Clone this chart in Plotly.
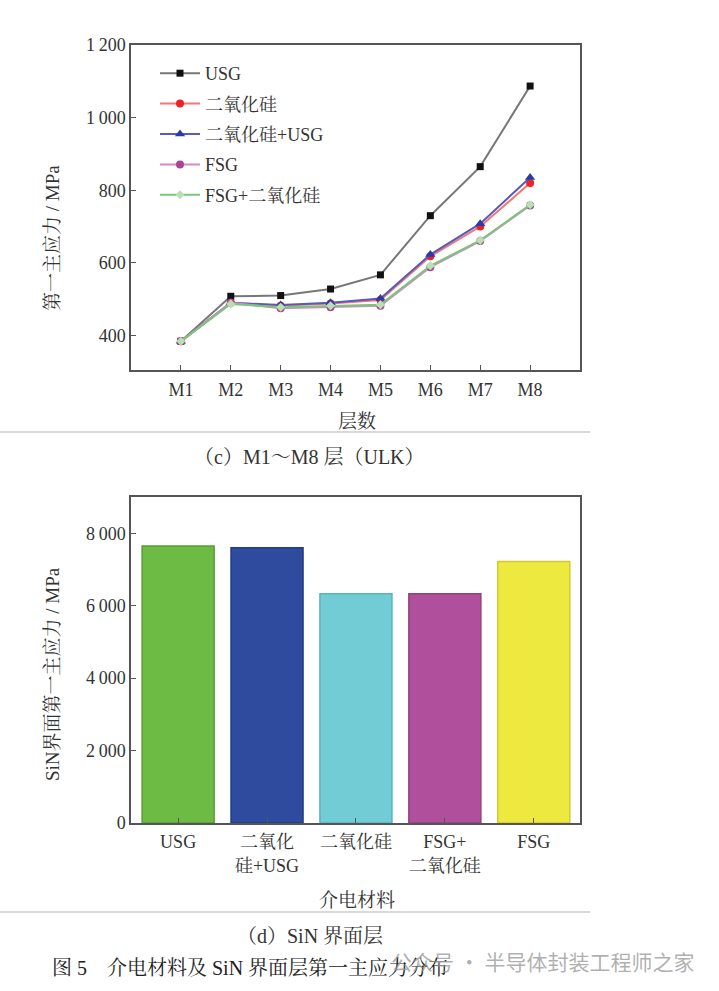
import plotly.graph_objects as go

layers = ["M1", "M2", "M3", "M4", "M5", "M6", "M7", "M8"]
usg = [384, 508, 510, 528, 567, 730, 865, 1087]
sio2 = [384, 490, 482, 488, 498, 618, 700, 820]
sio2_usg = [384, 490, 484, 490, 502, 623, 708, 835]
fsg = [384, 490, 475, 478, 482, 588, 660, 758]
fsg_sio2 = [384, 487, 478, 482, 485, 592, 662, 760]

top_yticks = [400, 600, 800, 1000, 1200]
top_yticktext = ["400", "600", "800", "1\u2009000", "1\u2009200"]

materials = ["USG", "二氧化<br>硅+USG", "二氧化硅", "FSG+<br>二氧化硅", "FSG"]
sin_stress = [7650, 7600, 6330, 6330, 7220]
bar_colors = ["#6dbb45", "#2f4b9e", "#72ccd6", "#b04f9c", "#ede93f"]
bar_lines = ["#55a030", "#243c85", "#55b5c0", "#93407f", "#d0cc30"]
bot_yticks = [0, 2000, 4000, 6000, 8000]
bot_yticktext = ["0", "2\u2009000", "4\u2009000", "6\u2009000", "8\u2009000"]

W, H = 719, 991
serif = "Liberation Serif, Noto Serif CJK SC, Noto Sans CJK SC, serif"
tc = "#333333"

fig = go.Figure()

series = [
    ("USG", usg, "#777777", "#111111", "square", 7),
    ("二氧化硅", sio2, "#f07878", "#ee2222", "circle", 8),
    ("二氧化硅+USG", sio2_usg, "#5a5ab8", "#2a3aa8", "triangle-up", 9),
    ("FSG", fsg, "#d888c8", "#aa4499", "circle", 8),
    ("FSG+二氧化硅", fsg_sio2, "#77c777", "#b8e0b0", "diamond", 7),
]
for i, (name, vals, lc, mc, sym, ms) in enumerate(series):
    fig.add_trace(go.Scatter(
        x=layers, y=vals, name=name, mode="lines+markers",
        line=dict(color=lc, width=2),
        marker=dict(color=mc, symbol=sym, size=ms, line=dict(width=0)),
        legendgroup=f"g{i}", xaxis="x", yaxis="y",
    ))

fig.add_trace(go.Bar(
    x=materials, y=sin_stress, marker=dict(color=bar_colors, line=dict(color=bar_lines, width=1.5)),
    width=0.81, showlegend=False, xaxis="x2", yaxis="y2",
))

xd = [131 / W, 580 / W]
axis_common = dict(showline=True, linecolor="#555555", linewidth=1.5, mirror=True,
                   ticks="inside", ticklen=5, tickcolor="#555555", showgrid=False,
                   zeroline=False, automargin=False,
                   tickfont=dict(family=serif, size=18, color=tc))

fig.update_layout(
    width=W, height=H, margin=dict(l=0, r=0, t=0, b=0, autoexpand=False),
    paper_bgcolor="white", plot_bgcolor="white",
    font=dict(family=serif, color=tc),
    xaxis=dict(domain=xd, anchor="y", range=[-1, 8], ticklabelstandoff=3, **axis_common),
    yaxis=dict(domain=[1 - 370 / H, 1 - 45 / H], anchor="x", range=[305, 1200],
               tickvals=top_yticks, ticktext=top_yticktext, **axis_common),
    xaxis2=dict(domain=xd, anchor="y2", range=[-0.53, 4.52], ticklabelstandoff=2, **axis_common),
    yaxis2=dict(domain=[1 - 823 / H, 1 - 497 / H], anchor="x2", range=[0, 9000],
                tickvals=bot_yticks, ticktext=bot_yticktext, **axis_common),
    legend=dict(x=155 / W, y=1 - 55 / H, xanchor="left", yanchor="top",
                bgcolor="rgba(0,0,0,0)", font=dict(family=serif, size=18, color=tc),
                tracegroupgap=4, itemwidth=40),
    bargap=0.19,
)

fig.add_shape(type="line", xref="paper", yref="paper", x0=0, x1=590 / W,
              y0=1 - 432 / H, y1=1 - 432 / H, line=dict(color="#cccccc", width=1.5))
fig.add_shape(type="line", xref="paper", yref="paper", x0=0, x1=590 / W,
              y0=1 - 912 / H, y1=1 - 912 / H, line=dict(color="#cccccc", width=1.5))

def ann(text, x, y, size=18, color=tc, xanchor="center", angle=0, family=serif):
    fig.add_annotation(text=text, xref="paper", yref="paper", x=x / W, y=1 - y / H,
                       xanchor=xanchor, yanchor="middle", showarrow=False, textangle=angle,
                       font=dict(family=family, size=size, color=color))

ann("第一主应力 / MPa", 52, 238, size=19, angle=-90)
ann("SiN界面第一主应力 / MPa", 52, 674, size=19, angle=-90)
ann("层数", 357, 421, size=19)
ann("介电材料", 357, 900, size=19)
ann("（c）M1～M8 层（ULK）", 309, 457, size=20)
ann("（d）SiN 界面层", 310, 936, size=20)
ann("图 5　介电材料及 SiN 界面层第一主应力分布", 50, 968, size=20, color="#222222", xanchor="left")
ann("公众号 · 半导体封装工程师之家", 696, 961, size=21, color="rgba(150,150,150,0.75)",
    xanchor="right", family="Noto Sans CJK SC")

fig.write_html("out.html", config={"displayModeBar": False},
               post_script="document.body.style.margin='0';document.body.style.padding='0';")
